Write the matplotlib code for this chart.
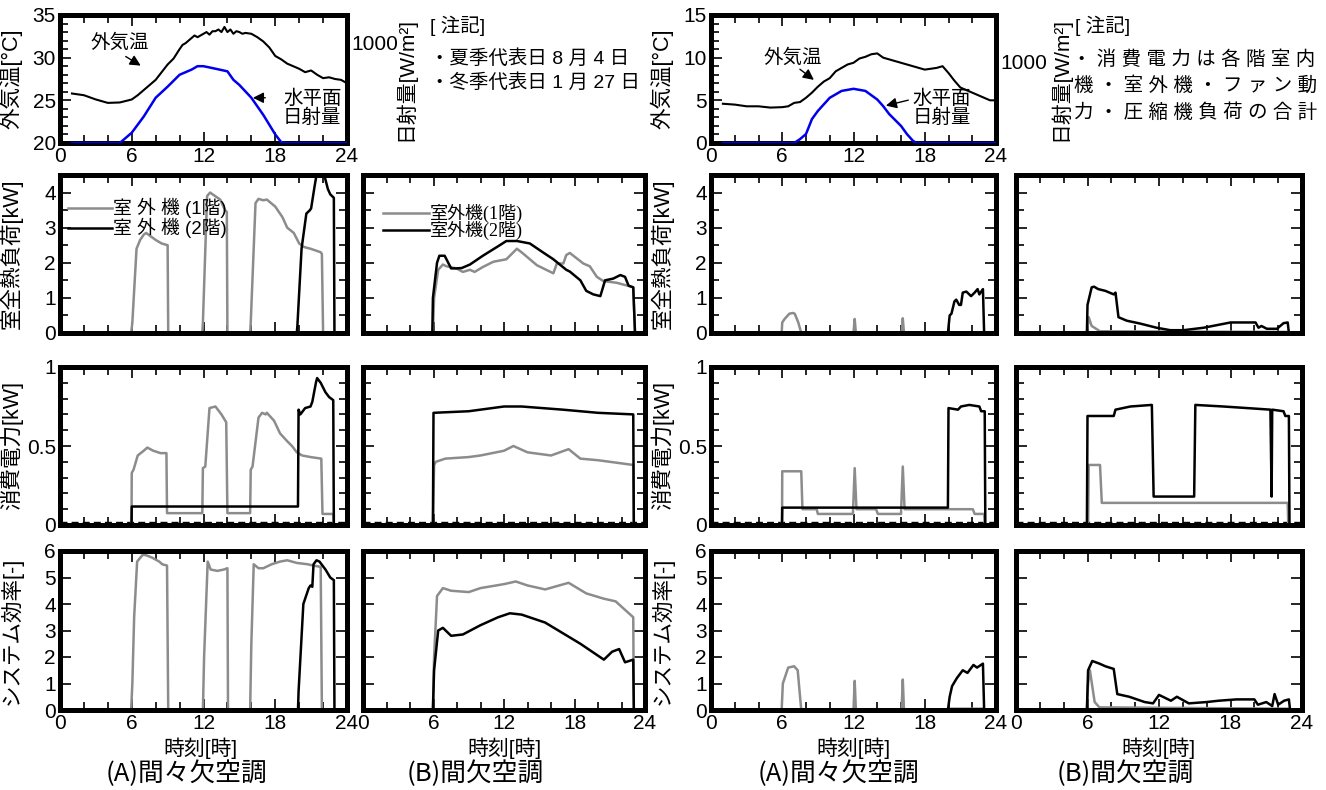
import matplotlib
matplotlib.use('Agg')
import matplotlib.pyplot as plt
from matplotlib.ticker import MultipleLocator, FuncFormatter

plt.rcParams['font.family'] = ['Liberation Sans', 'Noto Sans CJK JP', 'DejaVu Sans']

GRAY = '#8c8c8c'
BLUE = '#0000ee'
W, H = 1326, 790

# ---- weather (summer 8/4, winter 1/27) ----
temp_s_t = [1, 2, 3, 4, 5, 6, 6.5, 7, 7.5, 8, 8.5, 9, 9.5, 10, 10.25, 10.5, 10.75, 11,
            11.25, 11.5, 11.75, 12, 12.25, 12.5, 12.75, 13, 13.25, 13.5, 13.75, 14,
            14.25, 14.5, 14.75, 15, 15.25, 15.5, 16, 16.5, 17, 17.5, 18, 18.5, 19, 19.5,
            20, 20.5, 21, 21.5, 22, 22.5, 23, 23.5, 24]
temp_s_v = [25.8, 25.6, 25.1, 24.7, 24.75, 25.1, 25.6, 26.2, 26.8, 27.4, 28.3, 29.2, 29.9, 31.0,
            31.5, 31.7, 32.0, 32.3, 32.6, 32.4, 32.6, 32.8, 33.0, 32.7, 33.1, 33.1, 33.3, 33.0,
            33.6, 33.0, 33.3, 32.8, 33.1, 33.0, 32.8, 32.9, 32.8, 32.4, 31.9, 31.2, 30.2, 29.8,
            29.3, 29.0, 28.7, 28.3, 28.5, 28.0, 27.6, 27.7, 27.5, 27.4, 27.0]
sol_s_t = [1, 5, 6, 7, 8, 9, 10, 11, 11.5, 12, 13, 14, 14.5, 15, 16, 17, 18, 18.5, 19, 24]
sol_s_v = [0, 0, 102, 262, 449, 559, 677, 728, 762, 762, 737, 711, 627, 576, 449, 279, 85, 8, 0, 0]

temp_w_t = [1, 2, 3, 4, 5, 6, 6.5, 7, 7.5, 8, 8.5, 9, 9.5, 10, 10.5, 11, 11.5, 12, 12.5, 13,
            13.5, 14, 14.5, 15, 15.5, 16, 16.5, 17, 17.5, 18, 18.5, 19, 19.5, 20, 20.5, 21,
            21.5, 22, 22.5, 23, 23.5, 24]
temp_w_v = [4.6, 4.5, 4.3, 4.3, 4.15, 4.2, 4.3, 4.7, 4.8, 5.3, 5.9, 6.6, 7.2, 7.6, 8.4, 8.8,
            9.2, 9.4, 9.9, 10.1, 10.4, 10.5, 10.0, 9.8, 9.6, 9.4, 9.2, 9.0, 8.8, 8.6, 8.7, 8.8,
            9.0, 8.2, 7.3, 6.5, 6.2, 5.9, 5.6, 5.3, 5.0, 5.0]
sol_w_t = [1, 7, 7.5, 8, 8.5, 9, 10, 11, 12, 13, 14, 14.5, 15, 16, 16.5, 17, 17.3, 24]
sol_w_v = [0, 0, 48, 111, 295, 396, 558, 643, 669, 643, 537, 455, 358, 211, 110, 28, 0, 0]

# ---- summer (A) ----
sa_load1_t = [0, 5.95, 6.05, 6.4, 6.7, 7.0, 7.2, 7.6, 8.0, 8.5, 9.0, 9.05, 11.9, 11.95, 12.3,
              12.55, 13.4, 13.8, 13.95, 14.0, 15.9, 15.95, 16.35, 16.6, 17.0, 17.3, 18.0,
              18.6, 19.0, 19.55, 20.0, 20.4, 20.95, 21.8, 21.9, 22.0, 23.0]
sa_load1_v = [0, 0, 0.3, 2.4, 2.65, 2.8, 2.85, 2.75, 2.65, 2.55, 2.5, 0, 0, 0.3, 3.9,
              4.0, 3.8, 3.5, 3.45, 0, 0, 0.3, 3.7, 3.82, 3.78, 3.8, 3.6,
              3.3, 3.0, 2.85, 2.55, 2.45, 2.4, 2.3, 2.25, 0.02, 0.02]
sa_load2_t = [0, 19.8, 19.85, 20.2, 20.6, 20.9, 21.0, 21.3, 21.7, 22.1, 22.4, 22.6, 22.9, 22.95]
sa_load2_v = [0, 0, 0.2, 2.4, 3.4, 3.5, 3.55, 4.2, 5.0, 4.5, 4.1, 3.95, 3.85, 0]

sa_pow1_t = [0, 5.98, 6.0, 6.15, 6.5, 7.0, 7.3, 7.8, 8.4, 8.9, 8.95, 11.9, 11.95, 12.15,
             12.5, 13.0, 13.5, 13.9, 14.0, 15.9, 15.95, 16.1, 16.6, 16.9, 17.2, 17.3, 17.9,
             18.4, 19.0, 19.4, 19.8, 20.25, 20.95, 21.85, 21.95, 22.85, 22.9]
sa_pow1_v = [0, 0, 0.33, 0.35, 0.44, 0.47, 0.49, 0.47, 0.455, 0.455, 0.075, 0.075, 0.36, 0.37,
             0.74, 0.75, 0.70, 0.65, 0.075, 0.075, 0.35, 0.37, 0.68, 0.71, 0.70, 0.71, 0.66,
             0.58, 0.53, 0.50, 0.46, 0.44, 0.43, 0.42, 0.07, 0.07, 0]
sa_pow2_t = [0, 5.98, 6.0, 19.9, 19.95, 20.1, 20.5, 20.95, 21.1, 21.4, 21.5, 21.8, 22.2, 22.5, 22.85, 22.9]
sa_pow2_v = [0, 0, 0.117, 0.117, 0.73, 0.70, 0.74, 0.75, 0.78, 0.90, 0.93, 0.90, 0.84, 0.81, 0.79, 0]

sa_cop1_t = [0, 0.05, 5.95, 6.05, 6.2, 6.45, 6.9, 7.15, 7.7, 8.3, 8.55, 8.95, 9.05,
             11.95, 12.05, 12.35, 12.6, 13.15, 13.7, 14.0, 14.05,
             15.9, 16.0, 16.2, 16.6, 17.0, 17.7, 18.4, 19.0, 19.8, 20.7, 21.2, 21.8, 21.9, 23.0]
sa_cop1_v = [1.0, 0, 0, 1.0, 3.5, 5.6, 5.85, 5.85, 5.75, 5.6, 5.5, 5.45, 0,
             0, 2.0, 5.6, 5.3, 5.25, 5.3, 5.35, 0,
             0, 2.5, 5.5, 5.35, 5.35, 5.5, 5.6, 5.65, 5.55, 5.5, 5.45, 5.4, 0.02, 0.02]
sa_cop2_t = [0, 19.9, 19.95, 20.35, 20.8, 20.95, 21.1, 21.2, 21.45, 21.7, 22.2, 22.6, 22.9, 22.95]
sa_cop2_v = [0, 0, 0.7, 4.0, 4.6, 4.7, 4.65, 5.5, 5.65, 5.6, 5.3, 5.0, 4.9, 0]

# ---- summer (B) ----
sb_load1_t = [0, 5.95, 6.05, 6.4, 6.8, 7.1, 7.95, 8.5, 9.1, 9.5, 10.2, 11.1, 12.2, 12.5, 13.1,
              13.6, 14.8, 16.2, 16.5, 17.05, 17.3, 17.6, 18.75, 19.3, 19.9, 20.45, 21.6, 22.7,
              23.0, 23.15]
sb_load1_v = [0, 0, 1.0, 1.8, 1.95, 1.9, 1.84, 1.74, 1.8, 1.74, 1.88, 2.03, 2.1, 2.2, 2.4,
              2.27, 1.93, 1.7, 1.98, 1.98, 2.22, 2.28, 1.98, 1.9, 1.6, 1.48, 1.43, 1.33,
              1.3, 0]
sb_load2_t = [0, 5.9, 5.95, 6.3, 6.5, 6.95, 7.5, 7.95, 8.4, 9.1, 10.2, 11.4, 12.2, 13.1, 14.2,
              15.3, 16.2, 17.3, 17.6, 18.5, 19.0, 19.6, 20.2, 20.6, 21.3, 21.9, 22.3, 22.6,
              23.0, 23.15]
sb_load2_v = [0, 0, 1.0, 2.0, 2.2, 2.2, 1.84, 1.84, 1.85, 1.95, 2.2, 2.45, 2.62, 2.62, 2.55,
              2.3, 2.1, 1.8, 1.75, 1.5, 1.2, 1.1, 1.05, 1.5, 1.55, 1.65, 1.6, 1.35,
              1.3, 0]

sb_pow1_t = [0, 5.95, 6.05, 6.2, 7.0, 9.0, 10.0, 12.0, 12.8, 14.0, 16.0, 17.5, 18.5, 20.0, 22.0, 23.0, 23.05]
sb_pow1_v = [0, 0, 0.38, 0.40, 0.42, 0.43, 0.44, 0.47, 0.50, 0.46, 0.44, 0.48, 0.42, 0.41, 0.39, 0.38, 0]
sb_pow2_t = [0, 5.95, 6.0, 9.0, 12.0, 13.5, 17.0, 20.0, 23.0, 23.05]
sb_pow2_v = [0, 0, 0.71, 0.72, 0.75, 0.75, 0.73, 0.71, 0.70, 0]

sb_cop1_t = [0, 0.05, 5.95, 6.05, 6.3, 6.8, 7.5, 9.0, 10.0, 12.0, 13.0, 14.0, 15.5, 17.5, 19.0,
             20.5, 21.5, 22.5, 23.0, 23.05]
sb_cop1_v = [1.0, 0, 0, 2.0, 4.3, 4.6, 4.5, 4.45, 4.6, 4.75, 4.85, 4.7, 4.55, 4.8, 4.4,
             4.2, 4.1, 3.7, 3.5, 0]
sb_cop2_t = [0, 5.95, 6.05, 6.4, 6.8, 7.5, 8.5, 10.0, 11.5, 12.5, 13.5, 15.5, 17.0, 18.5, 19.5,
             20.5, 21.2, 21.8, 22.3, 23.0, 23.05]
sb_cop2_v = [0, 0, 1.5, 3.0, 3.1, 2.8, 2.85, 3.2, 3.5, 3.65, 3.6, 3.3, 2.9, 2.5, 2.2,
             1.9, 2.2, 2.3, 1.8, 1.9, 0]

# ---- winter (A) ----
wa_load1_t = [0, 5.95, 6.0, 6.2, 6.6, 6.9, 7.05, 7.35, 7.6, 12.0, 12.1, 12.2, 16.05, 16.15,
              16.25, 20.1, 20.15, 23.0, 23.05]
wa_load1_v = [0, 0, 0.3, 0.4, 0.55, 0.57, 0.55, 0.3, 0, 0, 0.4, 0, 0, 0.42,
              0, 0, 0.02, 0.02, 0]
wa_load2_t = [0, 19.95, 20.1, 20.25, 20.5, 20.65, 20.9, 21.05, 21.2, 21.5, 21.9, 22.2, 22.45,
              22.6, 22.9, 23.0]
wa_load2_v = [0, 0, 0.5, 0.55, 0.9, 0.95, 0.8, 0.8, 1.15, 1.18, 1.05, 1.15, 1.25,
              1.1, 1.25, 0]

wa_pow1_t = [0, 5.98, 6.0, 7.6, 7.7, 8.9, 9.0, 11.95, 12.1, 12.25, 13.9, 14.05, 16.0, 16.15,
             16.3, 22.05, 22.2, 23.0, 23.05]
wa_pow1_v = [0, 0, 0.34, 0.34, 0.1, 0.1, 0.07, 0.07, 0.36, 0.1, 0.1, 0.07, 0.07, 0.37,
             0.1, 0.1, 0.07, 0.07, 0]
wa_pow2_t = [0, 5.98, 6.0, 19.95, 20.0, 20.8, 21.05, 21.75, 22.6, 22.75, 23.05, 23.1]
wa_pow2_v = [0, 0, 0.11, 0.11, 0.74, 0.73, 0.75, 0.76, 0.75, 0.72, 0.72, 0]

wa_cop1_t = [0, 5.95, 6.05, 6.5, 7.0, 7.3, 7.6, 12.0, 12.1, 12.2, 16.05, 16.15, 16.25, 20.1,
             20.15, 23.0, 23.05]
wa_cop1_v = [0, 0, 1.0, 1.6, 1.65, 1.5, 0, 0, 1.1, 0, 0, 1.15, 0, 0,
             0.05, 0.05, 0]
wa_cop2_t = [0, 19.95, 20.1, 20.3, 20.7, 21.2, 21.6, 22.1, 22.4, 22.9, 23.0]
wa_cop2_v = [0, 0, 0.5, 0.9, 1.2, 1.5, 1.4, 1.7, 1.6, 1.75, 0]

# ---- winter (B) ----
wb_load1_t = [0, 5.95, 6.1, 6.35, 7.05, 22.8, 22.85]
wb_load1_v = [0, 0, 0.45, 0.2, 0.05, 0.03, 0]
wb_load2_t = [0, 5.95, 6.0, 6.35, 6.55, 6.9, 7.5, 8.2, 8.35, 8.6, 9.3, 10.4, 11.8, 12.95, 14.05,
              15.75, 18.0, 20.1, 20.35, 20.6, 21.05, 21.9, 22.45, 22.8, 22.9]
wb_load2_v = [0, 0, 0.8, 1.3, 1.32, 1.25, 1.2, 1.1, 1.15, 0.45, 0.35, 0.27, 0.15, 0.08, 0.08,
              0.15, 0.3, 0.3, 0.15, 0.2, 0.12, 0.12, 0.28, 0.3, 0]

wb_pow1_t = [0, 6.05, 6.1, 7.05, 7.2, 22.8, 22.85]
wb_pow1_v = [0, 0, 0.38, 0.38, 0.14, 0.14, 0]
wb_pow2_t = [0, 5.95, 6.0, 8.2, 8.35, 9.6, 11.4, 11.55, 14.95, 15.05, 17.4, 19.4, 21.35, 21.45,
             21.5, 22.45, 22.6, 22.9, 22.95]
wb_pow2_v = [0, 0, 0.69, 0.69, 0.73, 0.75, 0.76, 0.18, 0.18, 0.76, 0.75, 0.74, 0.73, 0.18,
             0.73, 0.72, 0.69, 0.69, 0]

wb_cop1_t = [0, 5.95, 6.05, 6.2, 6.6, 7.0, 23.0, 23.05]
wb_cop1_v = [0, 0, 1.0, 1.5, 0.3, 0.1, 0.05, 0]
wb_cop2_t = [0, 5.95, 6.05, 6.4, 7.0, 7.5, 8.2, 8.5, 9.5, 10.8, 11.5, 12.0, 13.0, 13.5, 14.5,
             16.0, 17.0, 18.5, 20.0, 20.3, 21.0, 21.5, 21.7, 22.0, 22.5, 22.9, 23.0]
wb_cop2_v = [0, 0, 1.5, 1.85, 1.75, 1.65, 1.55, 0.6, 0.5, 0.3, 0.25, 0.57, 0.35, 0.5, 0.25,
             0.3, 0.35, 0.4, 0.4, 0.2, 0.3, 0.15, 0.6, 0.2, 0.35, 0.4, 0]

legend_labels_a = ['室 外 機 (1階)', '室 外 機 (2階)']
legend_labels_b = ['室外機(1階)', '室外機(2階)']

fig = plt.figure(figsize=(W / 100, H / 100), dpi=100)


def axes_px(l, t, r, b):
    return fig.add_axes([l / W, 1 - b / H, (r - l) / W, (b - t) / H])


def style(ax, ylim, major, minor, ylabels=True, xlabels=False):
    ax.set_xlim(0, 24)
    ax.set_ylim(*ylim)
    ax.xaxis.set_major_locator(MultipleLocator(6))
    ax.xaxis.set_minor_locator(MultipleLocator(2))
    ax.yaxis.set_major_locator(MultipleLocator(major))
    ax.yaxis.set_minor_locator(MultipleLocator(minor))
    ax.yaxis.set_major_formatter(FuncFormatter(lambda v, p: f'{v:g}'))
    ax.tick_params(which='both', direction='in', top=True, right=True,
                   labelsize=15, width=1.2, pad=3)
    ax.tick_params(which='major', length=8)
    ax.tick_params(which='minor', length=6)
    if not ylabels:
        ax.tick_params(labelleft=False)
    if not xlabels:
        ax.tick_params(labelbottom=False)
    for s in ax.spines.values():
        s.set_linewidth(3.6)


def weather(l, r, ylim, temp_t, temp_v, sol_t, sol_v, sol_max, label_x):
    ax = axes_px(l, 15, r, 143)
    style(ax, ylim, 5, 1, True, True)
    ax.plot(temp_t, temp_v, color='k', lw=1.5)
    ax.set_ylabel('外気温[°C]', fontsize=15.5)
    ax.yaxis.set_label_coords(-0.13, 0.5)
    ax2 = ax.twinx()
    ax2.set_ylim(0, sol_max)
    ax2.set_yticks([1000])
    ax2.tick_params(direction='in', length=0, labelsize=15, pad=3)
    for s in ax2.spines.values():
        s.set_visible(False)
    ax2.plot(sol_t, sol_v, color=BLUE, lw=1.8)
    ax2.set_ylabel('日射量[W/m²]', fontsize=15, rotation=90)
    ax2.yaxis.set_label_coords(label_x, 0.5)
    return ax


arrow = dict(arrowstyle='-|>', color='k', lw=1.0, mutation_scale=16)

# summer weather
axs = weather(60, 347, (20, 35), temp_s_t, temp_s_v, sol_s_t, sol_s_v, 1270, 1.165)
axs.text(5.0, 31.7, '外気温', fontsize=14, ha='center', va='center')
axs.annotate('', xy=(6.95, 28.9), xytext=(5.3, 30.3), arrowprops=arrow)
axs.text(18.65, 24.1, '水平面\n日射量', fontsize=14, ha='left', va='center', linespacing=1.05)
axs.annotate('', xy=(15.9, 25.3), xytext=(17.4, 25.3), arrowprops=arrow)

# winter weather
axw = weather(711, 996, (0, 15), temp_w_t, temp_w_v, sol_w_t, sol_w_v, 1580, 1.185)
axw.text(6.9, 10.0, '外気温', fontsize=14, ha='center', va='center')
axw.annotate('', xy=(8.85, 7.2), xytext=(7.3, 8.84), arrowprops=arrow)
axw.text(17.0, 4.07, '水平面\n日射量', fontsize=14, ha='left', va='center', linespacing=1.05)
axw.annotate('', xy=(14.5, 4.3), xytext=(16.84, 5.1), arrowprops=arrow)

# notes
fig.text(430 / W, 1 - 26 / H, '[ 注記]', fontsize=14, va='center')
fig.text(430 / W, 1 - 59 / H, '・夏季代表日 8 月 4 日', fontsize=14, va='center')
fig.text(430 / W, 1 - 83 / H, '・冬季代表日 1 月 27 日', fontsize=14, va='center')
fig.text(1075 / W, 1 - 26 / H, '[ 注記]', fontsize=14, va='center')
fig.text(1072 / W, 1 - 60 / H, '・ 消 費 電 力 は 各 階 室 内', fontsize=14, va='center')
fig.text(1074 / W, 1 - 86 / H, '機 ・ 室 外 機 ・ フ ァ ン 動', fontsize=14, va='center')
fig.text(1074 / W, 1 - 113 / H, '力 ・ 圧 縮 機 負 荷 の 合 計', fontsize=14, va='center')

cols = {'sA': (60, 347), 'sB': (363, 645), 'wA': (711, 996), 'wB': (1016, 1302)}
rows = {'load': (175, 333), 'power': (367, 525), 'cop': (551, 710)}
row_cfg = {
    'load': ((0, 4.5), 1, 0.5, '室全熱負荷[kW]'),
    'power': ((0, 1), 0.5, 0.1, '消費電力[kW]'),
    'cop': ((0, 6), 1, 1, 'システム効率[-]'),
}
series = {
    ('sA', 'load'): (sa_load1_t, sa_load1_v, sa_load2_t, sa_load2_v),
    ('sA', 'power'): (sa_pow1_t, sa_pow1_v, sa_pow2_t, sa_pow2_v),
    ('sA', 'cop'): (sa_cop1_t, sa_cop1_v, sa_cop2_t, sa_cop2_v),
    ('sB', 'load'): (sb_load1_t, sb_load1_v, sb_load2_t, sb_load2_v),
    ('sB', 'power'): (sb_pow1_t, sb_pow1_v, sb_pow2_t, sb_pow2_v),
    ('sB', 'cop'): (sb_cop1_t, sb_cop1_v, sb_cop2_t, sb_cop2_v),
    ('wA', 'load'): (wa_load1_t, wa_load1_v, wa_load2_t, wa_load2_v),
    ('wA', 'power'): (wa_pow1_t, wa_pow1_v, wa_pow2_t, wa_pow2_v),
    ('wA', 'cop'): (wa_cop1_t, wa_cop1_v, wa_cop2_t, wa_cop2_v),
    ('wB', 'load'): (wb_load1_t, wb_load1_v, wb_load2_t, wb_load2_v),
    ('wB', 'power'): (wb_pow1_t, wb_pow1_v, wb_pow2_t, wb_pow2_v),
    ('wB', 'cop'): (wb_cop1_t, wb_cop1_v, wb_cop2_t, wb_cop2_v),
}

for (c, r), (t1, v1, t2, v2) in series.items():
    l, rr = cols[c]
    top, bot = rows[r]
    ylim, major, minor, ylab = row_cfg[r]
    ax = axes_px(l, top, rr, bot)
    is_a = c.endswith('A')
    style(ax, ylim, major, minor, ylabels=is_a, xlabels=(r == 'cop'))
    if r == 'power':
        ax.axhline(0.02, color='k', lw=1.0, ls=(0, (5, 3)))
    g, = ax.plot(t1, v1, color=GRAY, lw=1.8)
    k, = ax.plot(t2, v2, color='k', lw=1.8)
    if is_a:
        ax.set_ylabel(ylab, fontsize=15.5)
        ax.yaxis.set_label_coords(-0.13, 0.5)
    if r == 'load' and c == 'sA':
        ax.legend([g, k], legend_labels_a, loc='upper left', bbox_to_anchor=(0.01, 0.89),
                  frameon=False, fontsize=13.5, handlelength=2.3, handletextpad=0.05,
                  labelspacing=0.0, borderpad=0, borderaxespad=0.3)
    if r == 'load' and c == 'sB':
        ax.legend([g, k], legend_labels_b, loc='upper left', bbox_to_anchor=(0.05, 0.85),
                  frameon=False, handlelength=2.6, handletextpad=0.05,
                  labelspacing=-0.1, borderpad=0, borderaxespad=0.3,
                  prop={'family': ['Liberation Serif', 'Noto Sans CJK JP'], 'size': 13})

# bottom captions
for x in (200, 504, 853, 1158):
    fig.text(x / W, 1 - 748 / H, '時刻[時]', fontsize=15, ha='center', va='center')
for x, s in ((186, '(A)間々欠空調'), (475, '(B)間欠空調'), (838, '(A)間々欠空調'), (1125, '(B)間欠空調')):
    fig.text(x / W, 1 - 774 / H, s, fontsize=18.5, ha='center', va='center',
             family=['Noto Sans CJK JP'])

fig.savefig('out.png', dpi=100)
